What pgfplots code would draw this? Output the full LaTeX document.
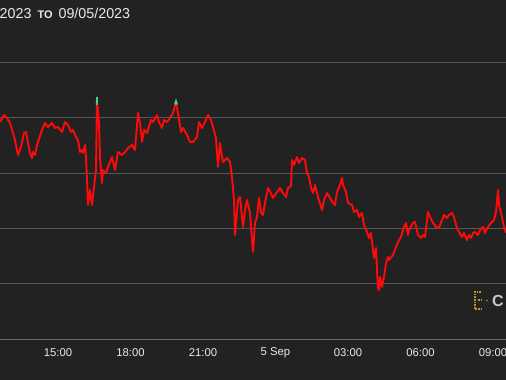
\documentclass[border=0pt]{standalone}
\usepackage{fontspec}
\setmainfont{Liberation Sans}
\usepackage{pgfplots}
\pgfplotsset{compat=1.18}
\definecolor{bg}{HTML}{222222}
\definecolor{gridc}{HTML}{575757}
\definecolor{axisc}{HTML}{6A6A6A}
\definecolor{lbl}{HTML}{EAEAEA}
\definecolor{redl}{HTML}{FF0A0A}
\definecolor{greenl}{HTML}{3FD08F}
\definecolor{logoy}{HTML}{B8962E}
\definecolor{logog}{HTML}{C8C8C8}
\begin{document}
\begin{tikzpicture}[x=1pt,y=1pt]
\fill[bg] (0,-41) rectangle (506,339);
\useasboundingbox (0,-41) rectangle (506,339);
\begin{axis}[
  at={(0,0)}, anchor=south west,
  scale only axis, width=506pt, height=339pt,
  xmin=0, xmax=506, ymin=0, ymax=339,
  axis line style={draw=none},
  clip=false,
  ytick={56,111,166,222,277},
  yticklabels={},
  ymajorgrids=true,
  major grid style={color=gridc, line width=0.8pt},
  major tick length=0pt,
  xtick={58,130.5,203,275.5,348,420.5,493},
  xticklabels={15:00,18:00,21:00,5 Sep,03:00,06:00,09:00},
  xticklabel style={anchor=center, yshift=-13.5pt, text=lbl, font=\fontsize{11.3}{12}\selectfont},
]
\draw[axisc, line width=1pt] (axis cs:0,0) -- (axis cs:506,0);
\addplot[redl, line width=1.9pt, line join=round] coordinates {
(0,217)(4,224)(7,221)(10,216)(13,206)(15,199)(18,184)(21,192)(24,206)(26,207)
(28,196)(30,186)(32,181)(33,187)(35,184)(37,194)(42,209)(45,216)(48,212)(52,216)
(55,211)(58,212)(62,207)(65,217)(68,214)(71,207)(73,209)(76,202)(78,199)(80,187)
(82,189)(83,186)(85,194)(86,182)(87,159)(88,134)(90,149)(92,134)(94,152)(96,169)
(97,239)(99,216)(100,182)(102,156)(103,169)(106,166)(108,172)(112,182)(115,169)(118,187)
(122,184)(125,187)(128,191)(132,194)(135,189)(138,226)(140,216)(142,197)(144,209)(147,206)
(151,219)(153,217)(157,224)(159,217)(162,211)(164,219)(167,217)(170,221)(173,226)(176,237)
(178,226)(181,207)(183,211)(187,204)(190,197)(193,197)(197,202)(199,217)(202,211)(205,217)
(208,224)(211,219)(213,212)(216,201)(218,172)(220,196)(222,182)(223,177)(227,181)(230,177)
(232,162)(234,139)(235,104)(238,139)(240,142)(243,112)(245,129)(247,139)(250,126)(252,99)
(253,87)(255,116)(257,122)(259,141)(261,126)(263,124)(265,136)(268,151)(271,146)(273,141)
(277,147)(280,151)(283,146)(286,142)(288,151)(291,153)(292,179)(294,174)(297,182)(299,176)
(302,181)(305,179)(307,166)(309,162)(311,151)(313,146)(315,154)(318,142)(322,129)(324,139)
(327,146)(330,141)(333,136)(335,134)(337,147)(340,154)(342,161)(343,154)(346,147)(348,136)
(352,134)(354,127)(357,129)(359,122)(362,126)(364,114)(367,107)(369,101)(371,106)(373,89)
(374,81)(376,91)(377,69)(378,51)(379,49)(380,62)(382,52)(384,62)(386,76)(388,82)
(389,79)(393,84)(396,92)(399,99)(401,102)(404,112)(406,116)(408,104)(409,109)(413,116)
(415,117)(418,104)(421,101)(423,104)(425,102)(428,127)(430,122)(433,116)(436,112)(439,111)
(442,119)(444,124)(447,121)(449,124)(452,126)(454,122)(457,111)(459,107)(462,102)(464,106)
(467,99)(469,104)(471,101)(473,106)(475,107)(478,104)(480,109)(483,112)(485,106)(488,112)
(491,116)(494,119)(496,127)(498,149)(499,134)(502,122)(504,112)(506,106)
};
\addplot[greenl, line width=1.9pt] coordinates {(96.7,234)(97,239)(97,242)};
\addplot[greenl, line width=2pt] coordinates {(175,234.5)(176,237.5)(177,234.5)};
\end{axis}
\node[anchor=west, text=lbl, inner sep=0pt] at (-0.5,326)
  {\fontsize{14.3}{16}\selectfont 2023\hspace{6pt}{\bfseries\fontsize{11}{12}\selectfont TO}\hspace{6pt}09/05/2023};
\draw[logoy, line width=2pt, dash pattern=on 1.8pt off 0.9pt] (481,47) -- (474.5,47) -- (474.5,30) -- (481,30);
\draw[logoy, line width=2pt, dash pattern=on 1.8pt off 0.9pt] (478,38.5) -- (481,38.5);
\fill[logoy] (487,38.5) circle (0.8pt);
\node[anchor=west, text=logog, inner sep=0pt] at (492,38.5) {\bfseries\fontsize{16}{17}\selectfont C};
\end{tikzpicture}
\end{document}
